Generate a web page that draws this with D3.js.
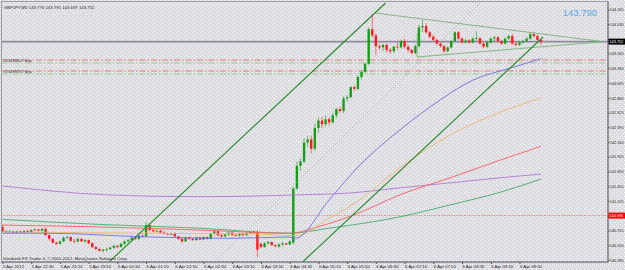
<!DOCTYPE html>
<html lang="en">
<head>
<meta charset="utf-8">
<title>GBPJPY,M5</title>
<script src="https://d3js.org/d3.v7.min.js"></script>
<style type="text/css">
  body { margin: 0; background: #e2e0e6; }
  svg { display: block; font-family: "Liberation Sans", Arial, sans-serif; }
</style>
</head>
<body>
<svg width="625" height="270" id="chart"></svg>
<script>

  // M5 bars, [open, high, low, close]
  var bars = [
    [140.81,140.84,140.72,140.74],[140.74,140.76,140.71,140.73],[140.73,140.76,140.71,140.74],[140.74,140.75,140.71,140.72],
    [140.72,140.75,140.70,140.74],[140.74,140.75,140.71,140.72],[140.72,140.76,140.71,140.75],[140.75,140.76,140.72,140.73],
    [140.73,140.77,140.72,140.76],[140.76,140.79,140.74,140.77],[140.77,140.78,140.74,140.75],[140.75,140.79,140.74,140.78],
    [140.78,140.80,140.66,140.68],[140.68,140.69,140.59,140.62],[140.62,140.63,140.55,140.56],[140.56,140.58,140.52,140.54],
    [140.54,140.60,140.53,140.58],[140.58,140.66,140.57,140.64],[140.64,140.67,140.61,140.65],[140.65,140.66,140.57,140.59],
    [140.59,140.62,140.55,140.58],[140.58,140.64,140.56,140.62],[140.62,140.64,140.57,140.58],[140.58,140.62,140.56,140.60],
    [140.60,140.61,140.53,140.55],[140.55,140.57,140.47,140.49],[140.49,140.51,140.44,140.46],[140.46,140.48,140.42,140.43],
    [140.43,140.46,140.41,140.45],[140.45,140.48,140.42,140.46],[140.46,140.50,140.44,140.48],[140.48,140.53,140.46,140.51],
    [140.51,140.52,140.47,140.49],[140.49,140.56,140.48,140.54],[140.54,140.60,140.52,140.58],[140.58,140.62,140.55,140.60],
    [140.60,140.66,140.58,140.64],[140.64,140.65,140.60,140.62],[140.62,140.70,140.60,140.67],[140.67,140.70,140.64,140.66],
    [140.66,140.89,140.65,140.84],[140.84,140.86,140.74,140.76],[140.76,140.78,140.72,140.74],[140.74,140.77,140.72,140.75],
    [140.75,140.76,140.70,140.72],[140.72,140.74,140.69,140.70],[140.70,140.72,140.68,140.69],[140.69,140.72,140.68,140.71],
    [140.71,140.72,140.64,140.66],[140.66,140.67,140.60,140.62],[140.62,140.64,140.55,140.58],[140.58,140.66,140.57,140.64],
    [140.64,140.66,140.60,140.62],[140.62,140.64,140.59,140.60],[140.60,140.66,140.59,140.64],[140.64,140.66,140.60,140.61],
    [140.61,140.66,140.60,140.65],[140.65,140.66,140.61,140.62],[140.62,140.72,140.61,140.70],[140.70,140.77,140.68,140.74],
    [140.74,140.75,140.66,140.68],[140.68,140.70,140.64,140.66],[140.66,140.71,140.65,140.69],[140.69,140.74,140.67,140.72],
    [140.72,140.73,140.67,140.68],[140.68,140.70,140.66,140.67],[140.67,140.71,140.66,140.70],[140.70,140.71,140.66,140.68],
    [140.68,140.72,140.67,140.71],[140.71,140.74,140.70,140.73],[140.73,140.76,140.70,140.72],[140.72,140.76,140.33,140.45],
    [140.54,140.56,140.47,140.49],[140.49,140.57,140.48,140.55],[140.55,140.59,140.53,140.57],[140.57,140.58,140.51,140.52],
    [140.52,140.54,140.49,140.50],[140.50,140.55,140.48,140.53],[140.53,140.57,140.51,140.55],[140.55,140.56,140.52,140.53],
    [140.53,140.60,140.52,140.58],[140.56,141.44,140.53,141.42],[141.42,141.85,141.40,141.78],[141.78,141.90,141.70,141.85],
    [141.85,142.22,141.82,142.15],[142.15,142.25,142.08,142.20],[142.20,142.26,141.98,142.05],[142.05,142.45,142.02,142.38],
    [142.38,142.55,142.30,142.50],[142.50,142.56,142.38,142.44],[142.44,142.58,142.40,142.52],[142.52,142.55,142.42,142.47],
    [142.47,142.62,142.45,142.58],[142.58,142.70,142.54,142.68],[142.68,142.72,142.62,142.65],[142.65,142.88,142.62,142.85],
    [142.85,142.90,142.80,142.87],[142.87,143.05,142.85,143.03],[143.03,143.06,142.97,143.00],[143.00,143.22,142.98,143.19],
    [143.19,143.30,143.15,143.27],[143.27,143.42,143.25,143.40],[143.40,143.98,143.38,143.95],[143.95,144.19,143.82,143.85],
    [143.85,143.88,143.54,143.68],[143.68,143.72,143.62,143.66],[143.66,143.72,143.60,143.70],[143.70,143.72,143.58,143.62],
    [143.62,143.65,143.56,143.60],[143.60,143.69,143.57,143.67],[143.67,143.74,143.62,143.66],[143.66,143.78,143.64,143.76],
    [143.76,143.80,143.64,143.67],[143.67,143.70,143.58,143.62],[143.62,143.64,143.55,143.57],[143.57,143.70,143.55,143.68],
    [143.68,144.02,143.66,143.98],[143.98,144.10,143.90,144.00],[144.00,144.05,143.88,143.90],[143.90,143.92,143.80,143.83],
    [143.83,143.86,143.76,143.78],[143.78,143.80,143.70,143.72],[143.72,143.74,143.66,143.68],[143.68,143.70,143.57,143.60],
    [143.60,143.68,143.58,143.66],[143.66,143.78,143.64,143.76],[143.76,143.92,143.74,143.90],[143.90,143.92,143.78,143.80],
    [143.80,143.82,143.72,143.74],[143.74,143.80,143.72,143.77],[143.77,143.79,143.72,143.74],[143.74,143.82,143.72,143.80],
    [143.80,143.92,143.76,143.81],[143.81,143.82,143.70,143.72],[143.72,143.74,143.65,143.67],[143.67,143.76,143.65,143.74],
    [143.74,143.82,143.72,143.80],[143.80,143.84,143.76,143.82],[143.82,143.84,143.74,143.76],[143.76,143.78,143.70,143.72],
    [143.72,143.82,143.70,143.80],[143.80,143.86,143.78,143.84],[143.84,143.88,143.70,143.72],[143.72,143.76,143.68,143.70],
    [143.70,143.76,143.68,143.74],[143.74,143.78,143.72,143.76],[143.76,143.82,143.74,143.80],[143.80,143.90,143.78,143.87],
    [143.87,143.90,143.82,143.84],[143.84,143.86,143.76,143.78],[143.776,143.791,143.697,143.752]
  ];

  var timeIdx = [0, 8, 16, 24, 32, 40, 48, 56, 64, 72, 80, 88, 96, 104, 112, 120, 128, 136, 144];
  var timeLabels = ["5 Apr 2012", "5 Apr 22:30", "5 Apr 23:10", "5 Apr 23:50", "6 Apr 00:30", "6 Apr 01:10",
    "6 Apr 01:50", "6 Apr 02:30", "6 Apr 03:10", "6 Apr 03:50", "6 Apr 04:30", "6 Apr 05:10", "6 Apr 05:50",
    "6 Apr 06:30", "6 Apr 07:10", "6 Apr 07:50", "6 Apr 08:30", "6 Apr 09:10", "6 Apr 09:50"];

  // 143.795 and 140.990 sit under the price boxes, so only their ticks show
  var priceLabels = ["144.265", "144.030", "143.795", "143.565", "143.330", "143.095", "142.860", "142.625", "142.395",
    "142.160", "141.925", "141.690", "141.455", "141.225", "140.990", "140.755", "140.520", "140.285"];
  var hiddenLabels = ["143.795", "140.990"];

  var header = "GBPJPY,M5  143.776 143.791 143.697 143.752";
  var bid = 143.752;
  var bigPrice = "143.790";
  var alertLevel = 140.990;

  // order lines: [price, colour key, label]
  var orderLines = [[143.460, "sl", "#23495507 buy"], [143.413, "op", ""], [143.286, "sl", "#23495767 buy"], [143.238, "op", ""]];

  // moving averages, points as [bar, price]
  var maBlue   = [[0,140.71],[12,140.71],[41,140.65],[64,140.63],[80,140.65],[81.5,140.63],[91,141.24],[99.5,141.79],[110.7,142.35],[122,142.83],[131,143.14],[141.4,143.33],[150,143.48]];
  var maOrange = [[0,140.73],[41,140.71],[69,140.70],[81.5,140.67],[91,140.95],[99.5,141.24],[110.7,141.75],[124.7,142.27],[138.6,142.63],[150,142.86]];
  var maRed    = [[0,140.84],[27,140.81],[55,140.76],[80,140.71],[88.4,140.82],[94,140.92],[99.6,141.04],[110.7,141.32],[124.7,141.59],[138.6,141.87],[150,142.09]];
  var maGreen  = [[0,140.93],[27,140.85],[55,140.79],[80,140.71],[91,140.79],[110.7,140.97],[124.7,141.16],[138.6,141.36],[150,141.57]];
  var maPurple = [[0,141.46],[29,141.32],[55,141.29],[83,141.32],[97,141.35],[110.7,141.43],[124.7,141.51],[138.6,141.59],[150,141.65]];

  // drawn objects, [bar, price] end points
  var channelUpper = [[29.7,140.254],[106.7,144.365]];
  var channelLower = [[83.6,140.254],[150.6,143.825]];
  var dottedLine   = [[59.2,140.254],[133.0,144.365]];
  var triangle     = [[[103.8,144.206],[167.3,143.751]], [[115.5,143.508],[167.3,143.751]], [[115.5,143.508],[115.5,143.889]]];

  var svg = d3.select("#chart");
  var plot = {left: 1.5, top: 1.5, right: 608, bottom: 262};

  var x = d3.scaleLinear().domain([0, 150]).range([2.5, 541]);
  var y = d3.scaleLinear().domain([140.285, 144.265]).range([260, 9.3]);

  var defs = svg.append("defs");
  var pat = defs.append("pattern").attr("id", "dots").attr("width", 4).attr("height", 4).attr("patternUnits", "userSpaceOnUse");
  pat.append("rect").attr("width", 4).attr("height", 4).attr("fill", "#dedce3");
  pat.append("rect").attr("x", 0).attr("y", 0).attr("width", 1).attr("height", 1).attr("fill", "#ffffff");
  pat.append("rect").attr("x", 2).attr("y", 2).attr("width", 1).attr("height", 1).attr("fill", "#ffffff");
  defs.append("clipPath").attr("id", "clip").append("rect")
    .attr("x", plot.left).attr("y", plot.top).attr("width", plot.right - plot.left).attr("height", plot.bottom - plot.top);

  svg.append("rect").attr("width", 625).attr("height", 270).attr("fill", "url(#dots)");

  var g = svg.append("g").attr("clip-path", "url(#clip)");

  // bid line
  g.append("line").attr("x1", plot.left).attr("x2", plot.right).attr("y1", y(bid)).attr("y2", y(bid))
    .attr("stroke", "#8a8a9a").attr("stroke-width", 1.6);

  // order lines
  orderLines.forEach(function(d) {
    g.append("line").attr("x1", plot.left).attr("x2", plot.right).attr("y1", y(d[0])).attr("y2", y(d[0]))
      .attr("stroke", d[1] == "sl" ? "#f26a6a" : "#7fd27f").attr("stroke-width", 0.9)
      .attr("stroke-dasharray", "6,2,1.5,2");
    if (d[2] != "") {
      g.append("text").attr("x", 3).attr("y", y(d[0]) + 1.6).attr("font-size", 4.2).attr("fill", "#333").text(d[2]);
    }
  });

  // alert line
  g.append("line").attr("x1", plot.left).attr("x2", plot.right).attr("y1", y(alertLevel)).attr("y2", y(alertLevel))
    .attr("stroke", "#ff5a5a").attr("stroke-width", 0.9).attr("stroke-dasharray", "1,1.5");

  // candles
  var candle = g.selectAll(".bar").data(bars).enter().append("g").attr("class", "bar");
  candle.append("line")
    .attr("x1", function(d, i) { return x(i); }).attr("x2", function(d, i) { return x(i); })
    .attr("y1", function(d) { return y(d[1]); }).attr("y2", function(d) { return y(d[2]); })
    .attr("stroke", function(d) { return d[3] >= d[0] ? "#2aa52a" : "#ff3030"; })
    .attr("stroke-width", 0.8).attr("opacity", 0.8);
  candle.append("rect")
    .attr("x", function(d, i) { return x(i) - 1.2; })
    .attr("y", function(d) { return y(Math.max(d[0], d[3])); })
    .attr("width", 2.4)
    .attr("height", function(d) { return Math.max(0.8, Math.abs(y(d[0]) - y(d[3]))); })
    .attr("fill", function(d) { return d[3] >= d[0] ? "#14a014" : "#ff1a1a"; });

  // moving averages
  var maLine = d3.line().x(function(d) { return x(d[0]); }).y(function(d) { return y(d[1]); }).curve(d3.curveMonotoneX);
  [[maPurple, "#b374d6"], [maGreen, "#3fae68"], [maRed, "#ff5b5b"], [maOrange, "#f2b36a"], [maBlue, "#6b6bea"]].forEach(function(m) {
    g.append("path").attr("d", maLine(m[0])).attr("fill", "none").attr("stroke", m[1]).attr("stroke-width", 0.9);
  });

  // drawn objects
  var seg = d3.line().x(function(d) { return x(d[0]); }).y(function(d) { return y(d[1]); });
  g.append("path").attr("d", seg(dottedLine)).attr("fill", "none").attr("stroke", "#8fb8b4").attr("stroke-width", 0.9).attr("stroke-dasharray", "1,2");
  triangle.forEach(function(t) {
    g.append("path").attr("d", seg(t)).attr("fill", "none").attr("stroke", "#74b374").attr("stroke-width", 0.9);
  });
  g.append("path").attr("d", seg(channelUpper)).attr("fill", "none").attr("stroke", "#1d8c1d").attr("stroke-width", 1.1);
  g.append("path").attr("d", seg(channelLower)).attr("fill", "none").attr("stroke", "#1d8c1d").attr("stroke-width", 1.1);

  // texts
  svg.append("text").attr("x", 4).attr("y", 8.5).attr("font-size", 4.3).attr("fill", "#222").text(header);
  svg.append("text").attr("x", 3).attr("y", 259.5).attr("font-size", 4.3).attr("fill", "#222")
    .text("Interbank FX Trader 4, \u00a9 2001-2012, MetaQuotes Software Corp.");
  svg.append("text").attr("x", 597).attr("y", 15.5).attr("text-anchor", "end").attr("font-size", 9.5)
    .attr("fill", "#55a6f0").text(bigPrice);

  // frame
  svg.append("rect").attr("x", plot.left).attr("y", plot.top).attr("width", plot.right - plot.left).attr("height", plot.bottom - plot.top)
    .attr("fill", "none").attr("stroke", "#9a9aa6").attr("stroke-width", 1);
  svg.append("line").attr("x1", plot.right).attr("x2", plot.right).attr("y1", plot.top).attr("y2", plot.bottom)
    .attr("stroke", "#6a6a78").attr("stroke-width", 1);
  svg.append("line").attr("x1", plot.left).attr("x2", plot.right).attr("y1", plot.bottom).attr("y2", plot.bottom)
    .attr("stroke", "#6a6a78").attr("stroke-width", 1);

  // axes
  var xAxis = d3.axisBottom(x).tickValues(timeIdx).tickFormat(function(d, i) { return timeLabels[i]; }).tickSize(2).tickPadding(1);
  var gx = svg.append("g").attr("transform", "translate(0," + plot.bottom + ")").call(xAxis);
  gx.select(".domain").remove();
  gx.attr("font-size", 4.3).attr("font-family", null);
  gx.selectAll("line").attr("stroke", "#555");
  gx.selectAll("text").attr("text-anchor", "start").attr("fill", "#222");

  var yAxis = d3.axisRight(y).tickValues(priceLabels.map(Number))
    .tickFormat(function(d, i) { return hiddenLabels.indexOf(priceLabels[i]) >= 0 ? "" : priceLabels[i]; })
    .tickSize(1.5).tickPadding(0.3);
  var gy = svg.append("g").attr("transform", "translate(" + plot.right + ",0)").call(yAxis);
  gy.select(".domain").remove();
  gy.attr("font-size", 3.8).attr("font-family", null);
  gy.selectAll("line").attr("stroke", "#555");
  gy.selectAll("text").attr("fill", "#222");

  // price boxes on the axis
  [[bid, "#000000", bid.toFixed(3)], [alertLevel, "#ff0000", alertLevel.toFixed(3)]].forEach(function(b) {
    svg.append("rect").attr("x", plot.right + 0.5).attr("y", y(b[0]) - 3).attr("width", 16.5).attr("height", 6).attr("fill", b[1]);
    svg.append("text").attr("x", plot.right + 1.5).attr("y", y(b[0]) + 1.4).attr("font-size", 3.8).attr("fill", "#fff").text(b[2]);
  });

</script>
</body>
</html>
